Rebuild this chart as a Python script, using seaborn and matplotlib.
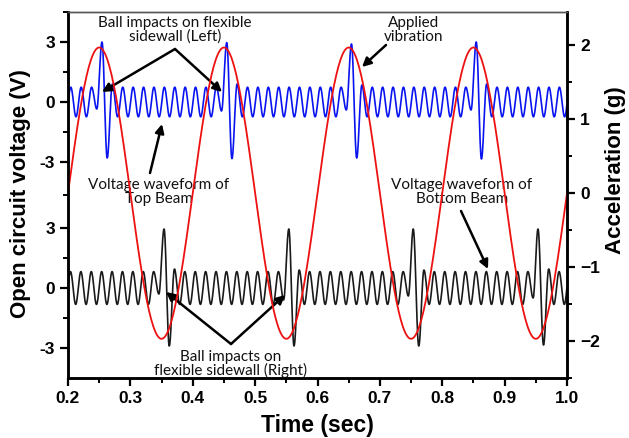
import numpy as np
import pandas as pd
import matplotlib
matplotlib.use("Agg")
import matplotlib.pyplot as plt
import seaborn as sns
from matplotlib.ticker import MultipleLocator, FixedLocator

# ---------------- data ----------------
time_range = [0.2, 1.0]

# Applied vibration (right axis, g): successive extrema of the red curve
accel_extrema_t = [0.15, 0.25, 0.35, 0.45, 0.55, 0.65, 0.75, 0.85, 0.95, 1.05]
accel_extrema_g = [-1.97, 1.97, -1.97, 1.97, -1.97, 1.97, -1.97, 1.97, -1.97, 1.97]

# Beam voltage ripple (left axis, V)
ripple_freq_hz = 60.0
top_first_peak_t = 0.2045
bottom_first_peak_t = 0.2040
top_ripple_amp = [0.74, -0.74]      # steady peak / trough
bottom_ripple_amp = [0.82, -0.82]

# Ball impacts on the top beam (left sidewall)
top_impact_t = [0.2545, 0.4545, 0.6545, 0.8545]
top_impact_up = [3.0, 2.97, 2.9, 3.0]
top_impact_down = [-2.8, -2.83, -2.8, -2.85]
top_impact_pre = [-0.35, -0.45, -0.4, -0.4]
top_impact_post = [0.9, 0.9, 0.85, 0.9]

# Ball impacts on the bottom beam (right sidewall)
bottom_impact_t = [0.354, 0.554, 0.7535, 0.9535]
bottom_impact_up = [2.95, 2.95, 2.95, 2.95]
bottom_impact_down = [-2.9, -2.9, -2.9, -2.85]
bottom_impact_pre = [-0.3, -0.6, -0.4, -0.5]
bottom_impact_post = [0.95, 0.9, 0.9, 0.95]

left_tick_labels = ["-3", "0", "3", "-3", "0", "3"]

# ---------------- layout constants ----------------
W, H = 629, 438
TOP_OFFSET = 9.3   # vertical shift of the top-beam trace on the left axis


def cosine_join(ts, vs, n=16):
    """Join successive extrema with half-cosine segments."""
    xs, ys = [], []
    for i in range(len(ts) - 1):
        s = np.linspace(0, 1, n, endpoint=False)
        xs.append(ts[i] + (ts[i + 1] - ts[i]) * s)
        ys.append(vs[i] + (vs[i + 1] - vs[i]) * (1 - np.cos(np.pi * s)) / 2)
    xs.append([ts[-1]])
    ys.append([vs[-1]])
    return np.concatenate(xs), np.concatenate(ys)


def ripple_extrema(first_peak, amp, imp_t, up, down, pre, post):
    half = 0.5 / ripple_freq_hz
    ks = np.arange(-2, int((time_range[1] - first_peak) / half) + 3)
    ts = first_peak + ks * half
    vs = np.where(ks % 2 == 0, amp[0], amp[1]).astype(float)
    for t, u, d, p, q in zip(imp_t, up, down, pre, post):
        i = int(np.argmin(np.abs(ts - t)))
        ts[i] = t
        vs[i] = u
        vs[i + 1] = d
        vs[i - 1] = p
        vs[i + 2] = q
    return ts, vs


def clip(x, y):
    m = (x >= time_range[0]) & (x <= time_range[1])
    return x[m], y[m]


ax_t, ax_v = clip(*cosine_join(accel_extrema_t, accel_extrema_g, n=60))
tt, tv = clip(*cosine_join(*ripple_extrema(top_first_peak_t, top_ripple_amp, top_impact_t,
                                            top_impact_up, top_impact_down,
                                            top_impact_pre, top_impact_post)))
bt, bv = clip(*cosine_join(*ripple_extrema(bottom_first_peak_t, bottom_ripple_amp, bottom_impact_t,
                                            bottom_impact_up, bottom_impact_down,
                                            bottom_impact_pre, bottom_impact_post)))

df_top = pd.DataFrame({"time": tt, "volt": tv + TOP_OFFSET})
df_bot = pd.DataFrame({"time": bt, "volt": bv})
df_acc = pd.DataFrame({"time": ax_t, "acc": ax_v})

# ---------------- plotting ----------------
sns.set_style("ticks")
plt.rcParams["font.family"] = ["Liberation Sans", "DejaVu Sans"]
plt.rcParams.update({"text.color": "black", "axes.labelcolor": "black",
                     "xtick.color": "black", "ytick.color": "black"})

fig = plt.figure(figsize=(W / 100, H / 100), dpi=100)
ax = fig.add_axes([68 / W, 60 / H, 499 / W, 366 / H])
ax2 = ax.twinx()

sns.lineplot(data=df_bot, x="time", y="volt", ax=ax, color="#1a1a1a", lw=1.2,
             estimator=None, sort=False)
sns.lineplot(data=df_top, x="time", y="volt", ax=ax, color="#0a14f0", lw=1.2,
             estimator=None, sort=False)
sns.lineplot(data=df_acc, x="time", y="acc", ax=ax2, color="#ee1111", lw=1.3,
             estimator=None, sort=False)

ax.set_xlim(*time_range)
ax.set_ylim(-4.5, TOP_OFFSET + 4.5)
ax2.set_ylim(-2.5, 2.45)

ax.xaxis.set_minor_locator(MultipleLocator(0.05))
xt = np.round(np.arange(0.2, 1.01, 0.1), 1)
ax.set_xticks(xt)
ax.set_xticklabels([f"{v:.1f}" for v in xt])

major_left = [-3, 0, 3, TOP_OFFSET - 3, TOP_OFFSET, TOP_OFFSET + 3]
ax.yaxis.set_major_locator(FixedLocator(major_left))
ax.set_yticklabels(left_tick_labels)
ax.yaxis.set_minor_locator(FixedLocator([-1.5, 1.5, TOP_OFFSET / 2,
                                         TOP_OFFSET - 1.5, TOP_OFFSET + 1.5, TOP_OFFSET + 4.5]))
ax2.yaxis.set_major_locator(MultipleLocator(1))
ax2.yaxis.set_minor_locator(MultipleLocator(0.5))

for a in (ax, ax2):
    a.tick_params(which="major", direction="out", length=6, width=1.6,
                  labelsize=12.5, color="black", labelcolor="black")
    a.tick_params(which="minor", direction="out", length=3.5, width=1.4, color="black")
    for lab in a.get_xticklabels() + a.get_yticklabels():
        lab.set_fontweight("bold")
    a.set_xlabel("")
    a.set_ylabel("")
ax.tick_params(axis="x", which="both", top=False)
ax2.tick_params(axis="y", which="both", left=False)

for a in (ax, ax2):
    for side in ("left", "right", "bottom"):
        a.spines[side].set_linewidth(1.8)
        a.spines[side].set_color("black")
    a.spines["top"].set_linewidth(1.0)
    a.spines["top"].set_color("#555555")
    a.spines["top"].set_visible(True)
    a.spines["right"].set_visible(True)

ax.set_xlabel("Time (sec)", fontsize=16.5, fontweight="bold", color="black")
ax.set_ylabel("Open circuit voltage (V)", fontsize=16, fontweight="bold", color="black")
ax.yaxis.set_label_coords(-0.075, 0.505)
ax.xaxis.set_label_coords(0.5, -0.097)
ax2.set_ylabel("Acceleration (g)", fontsize=16, fontweight="bold", rotation=90, color="black")
ax2.yaxis.set_label_coords(1.077, 0.568)


# ---------------- annotations ----------------
def fp(x, y):
    return (x / W, 1 - y / H)


txt = dict(fontsize=11, family=["Lato", "DejaVu Sans"], ha="center", va="center",
           linespacing=0.95, color="#111111")
arr = dict(arrowstyle="-|>", color="black", lw=1.8, mutation_scale=13,
           shrinkA=0, shrinkB=0)

ax.annotate("Ball impacts on flexible\nsidewall (Left)", xy=fp(175, 30),
            xycoords="figure fraction", **txt)
ax.annotate("", xy=fp(102, 92), xytext=fp(175, 49), xycoords="figure fraction",
            textcoords="figure fraction", arrowprops=arr)
ax.annotate("", xy=fp(222, 92), xytext=fp(175, 49), xycoords="figure fraction",
            textcoords="figure fraction", arrowprops=arr)

ax.annotate("Applied\nvibration", xy=fp(414, 30), xycoords="figure fraction", **txt)
ax.annotate("", xy=fp(362, 67), xytext=fp(386, 45), xycoords="figure fraction",
            textcoords="figure fraction", arrowprops=arr)

ax.annotate("Voltage waveform of\nTop Beam", xy=fp(159, 192), xycoords="figure fraction", **txt)
ax.annotate("", xy=fp(162, 124), xytext=fp(150, 173), xycoords="figure fraction",
            textcoords="figure fraction", arrowprops=arr)

ax.annotate("Voltage waveform of\nBottom Beam", xy=fp(462, 192), xycoords="figure fraction", **txt)
ax.annotate("", xy=fp(488, 269), xytext=fp(461, 211), xycoords="figure fraction",
            textcoords="figure fraction", arrowprops=arr)

ax.annotate("Ball impacts on\nflexible sidewall (Right)", xy=fp(231, 364),
            xycoords="figure fraction", **txt)
ax.annotate("", xy=fp(166, 292), xytext=fp(231, 344), xycoords="figure fraction",
            textcoords="figure fraction", arrowprops=arr)
ax.annotate("", xy=fp(285, 295), xytext=fp(231, 344), xycoords="figure fraction",
            textcoords="figure fraction", arrowprops=arr)

fig.savefig("out.png", dpi=100)
